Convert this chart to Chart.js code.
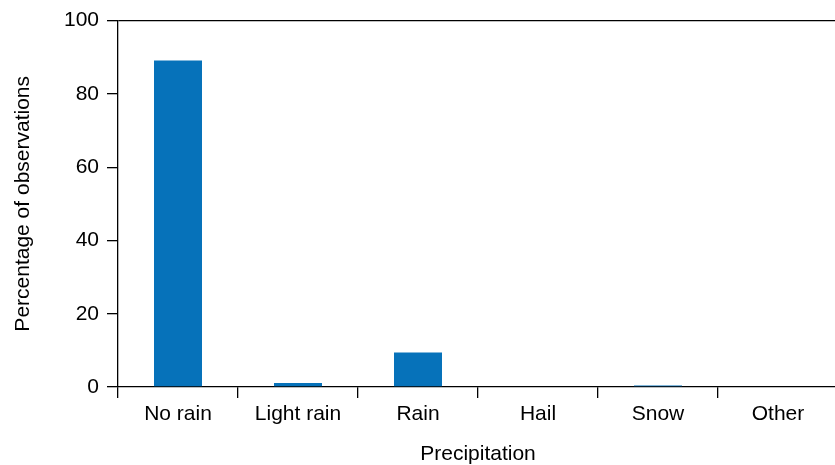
<!DOCTYPE html>
<html>
<head>
<meta charset="utf-8">
<script src="https://cdn.jsdelivr.net/npm/chart.js@4/dist/chart.umd.min.js"></script>
<style>
  html, body { margin: 0; padding: 0; background: #ffffff; overflow: hidden; }
  #wrap { width: 845px; height: 465px; }
</style>
</head>
<body>
<div id="wrap"><canvas id="chart" width="845" height="465"></canvas></div>
<script>
// Share of weather observations by precipitation type (%)
const categories = ['No rain', 'Light rain', 'Rain', 'Hail', 'Snow', 'Other'];
const shares = [89.1, 1.1, 9.4, 0, 0.4, 0];
const yTicks = [0, 20, 40, 60, 80, 100];

const BLUE = '#0672BA';
const INK = '#000000';
const LINE = 1.3;
const FONT = { family: '"Liberation Sans", Arial, sans-serif', size: 21 };

new Chart(document.getElementById('chart'), {
  type: 'bar',
  data: {
    labels: categories,
    datasets: [{
      data: shares,
      backgroundColor: BLUE,
      borderWidth: 0,
      categoryPercentage: 1.0,
      barPercentage: 0.4
    }]
  },
  options: {
    responsive: false,
    animation: false,
    layout: { padding: { top: 20, right: 7, left: 0, bottom: 0 } },
    plugins: { legend: { display: false }, tooltip: { enabled: false } },
    scales: {
      x: {
        type: 'category',
        offset: true,
        afterFit: s => { s.height = 78; },
        grid: {
          offset: true,
          drawOnChartArea: false,
          drawTicks: true,
          tickLength: 11,
          tickColor: INK,
          color: INK,
          lineWidth: LINE
        },
        border: { display: true, color: INK, width: LINE },
        ticks: { color: '#000', font: FONT, padding: 4, maxRotation: 0 },
        title: {
          display: true,
          text: 'Precipitation',
          color: '#000',
          font: FONT,
          padding: { top: 0, bottom: -2 }
        }
      },
      y: {
        min: 0,
        max: 100,
        afterFit: s => { s.width = 118; },
        afterBuildTicks: s => { s.ticks = yTicks.map(v => ({ value: v })); },
        grid: {
          drawTicks: true,
          tickLength: 11,
          tickColor: INK,
          lineWidth: LINE,
          color: ctx => (ctx.tick && ctx.tick.value === 100) ? INK : 'rgba(0,0,0,0)'
        },
        border: { display: true, color: INK, width: LINE },
        ticks: { color: '#000', font: FONT, padding: 8 },
        title: {
          display: true,
          text: 'Percentage of observations',
          color: '#000',
          font: FONT,
          padding: { top: 11, bottom: 0 }
        }
      }
    }
  }
});
</script>
</body>
</html>
